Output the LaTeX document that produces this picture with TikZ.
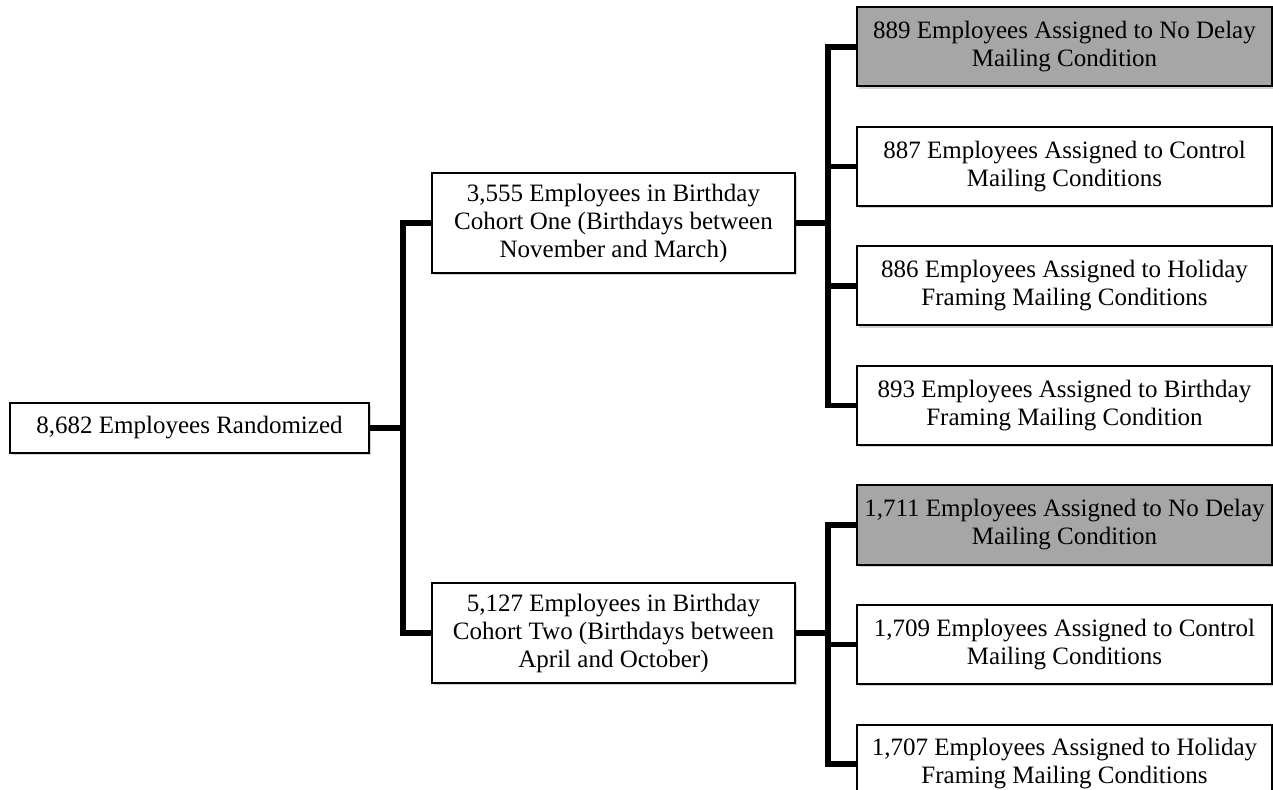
\documentclass[tikz,border=0pt]{standalone}
\usepackage{fontspec}
\setmainfont{Liberation Serif}
\usepackage{xcolor}
\usepackage{tikz}
\usetikzlibrary{positioning,shadows}

\begin{document}
\begin{tikzpicture}[x=1pt, y=1pt, node distance={19.25pt},
  box/.style = {draw, line width=1pt, fill=white, align=center, inner sep=0pt,
    font=\fontsize{12.5}{14}\selectfont,
    drop shadow={shadow xshift=1.2pt, shadow yshift=-1.2pt, opacity=0.35}},
  top/.style = {box, minimum width=179.5pt, minimum height=25pt},
  cohort/.style = {box, minimum width=181.5pt, minimum height=50pt},
  leaf/.style = {box, minimum width=207.5pt, minimum height=39.5pt},
  nodelay/.style = {fill=black!35},
  link/.style = {line width=2.75pt}]
\useasboundingbox (0,0) rectangle (636.5,-395);
\node[top] (root) at (94.75,-214) {8,682 Employees Randomized};
\node[cohort] (coh1) at (306.75,-111.5) {3,555 Employees in Birthday\\Cohort One (Birthdays between\\November and March)};
\node[cohort] (coh2) at (306.75,-316.5) {5,127 Employees in Birthday\\Cohort Two (Birthdays between\\April and October)};
\node[leaf,nodelay] (l1) at (532.25,-23.5) {889 Employees Assigned to No Delay\\Mailing Condition};
\node[leaf] (l2) [below=of l1] {887 Employees Assigned to Control\\Mailing Conditions};
\node[leaf] (l3) [below=of l2] {886 Employees Assigned to Holiday\\Framing Mailing Conditions};
\node[leaf] (l4) [below=of l3] {893 Employees Assigned to Birthday\\Framing Mailing Condition};
\node[leaf,nodelay] (l5) [below=of l4] {1,711 Employees Assigned to No Delay\\Mailing Condition};
\node[leaf] (l6) [below=of l5] {1,709 Employees Assigned to Control\\Mailing Conditions};
\node[leaf] (l7) [below=of l6] {1,707 Employees Assigned to Holiday\\Framing Mailing Conditions};
% brackets
\draw[link] (root.east) -- ++(16.5,0) |- (coh1.west);
\draw[link] (root.east) -- ++(16.5,0) |- (coh2.west);
\draw[link] (coh1.east) -- ++(16,0) |- (l1.west);
\draw[link] (coh1.east) -- ++(16,0) |- (l2.west);
\draw[link] (coh1.east) -- ++(16,0) |- (l3.west);
\draw[link] (coh1.east) -- ++(16,0) |- (l4.west);
\draw[link] (coh2.east) -- ++(16,0) |- (l5.west);
\draw[link] (coh2.east) -- ++(16,0) |- (l6.west);
\draw[link] (coh2.east) -- ++(16,0) |- (l7.west);
\end{tikzpicture}
\end{document}
